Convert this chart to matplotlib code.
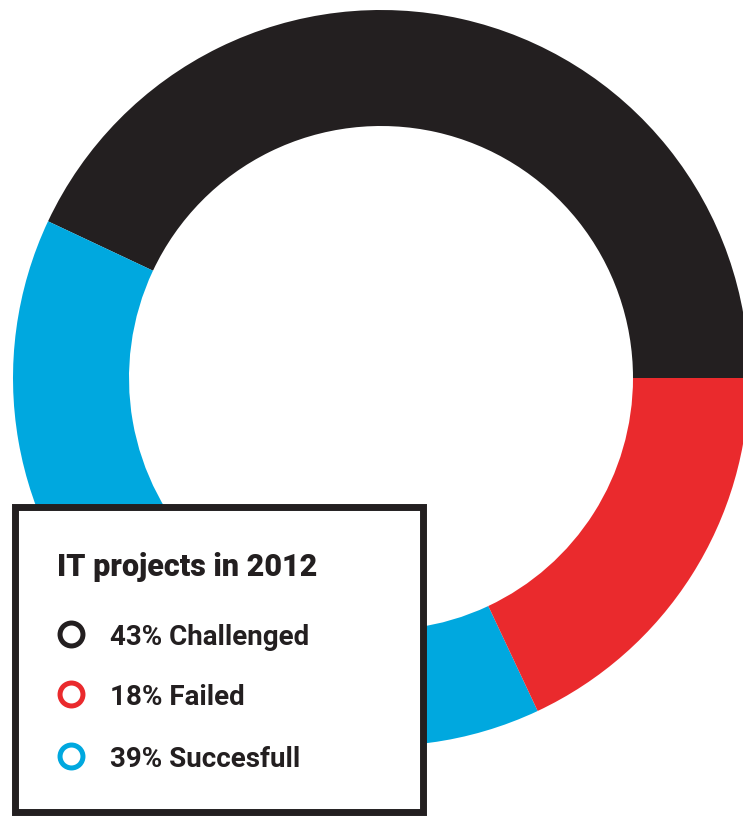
import matplotlib.pyplot as plt
from matplotlib.patches import Rectangle

# ==========================================
# DATA
# ==========================================
titulo = "IT projects in 2012"
categorias = ["Challenged", "Succesfull", "Failed"]
porcentajes = [43, 39, 18]
colores = ["#231f20", "#00a8df", "#ea2a2d"]

# orden de la leyenda
orden_leyenda = ["Challenged", "Failed", "Succesfull"]

TEXTO = "#231f20"
W, H = 743, 818

plt.rcParams['font.family'] = ['Roboto', 'DejaVu Sans']

fig = plt.figure(figsize=(W / 100, H / 100), dpi=100)
ax = fig.add_axes([0, 0, 1, 1])
ax.set_xlim(0, W)
ax.set_ylim(0, H)
ax.set_aspect('equal')
ax.axis('off')

# ==========================================
# DONUT
# ==========================================
ax.pie(porcentajes, colors=colores, startangle=0, counterclock=True,
       center=(381, H - 378), radius=368,
       wedgeprops=dict(width=116, linewidth=0))
ax.set_xlim(0, W)
ax.set_ylim(0, H)

# ==========================================
# CAJA DE LEYENDA
# ==========================================
caja = Rectangle((14.5, H - 811.5), 408, 305, facecolor='white',
                 edgecolor=TEXTO, linewidth=5, zorder=5)
ax.add_patch(caja)

ax.text(57, H - 576, titulo, fontsize=22, fontweight='heavy', color=TEXTO,
        va='baseline', ha='left', zorder=6)

filas_y = [634, 694, 756]
for nombre, py in zip(orden_leyenda, filas_y):
    i = categorias.index(nombre)
    ax.plot([71], [H - py], marker='o', markersize=16.5, markerfacecolor='white',
            markeredgecolor=colores[i], markeredgewidth=3.6, zorder=6)
    ax.text(110, H - py - 11, f"{porcentajes[i]}% {nombre}", fontsize=20,
            fontweight='bold', color=TEXTO, va='baseline', ha='left', zorder=6)

fig.savefig("out.png", dpi=100)
